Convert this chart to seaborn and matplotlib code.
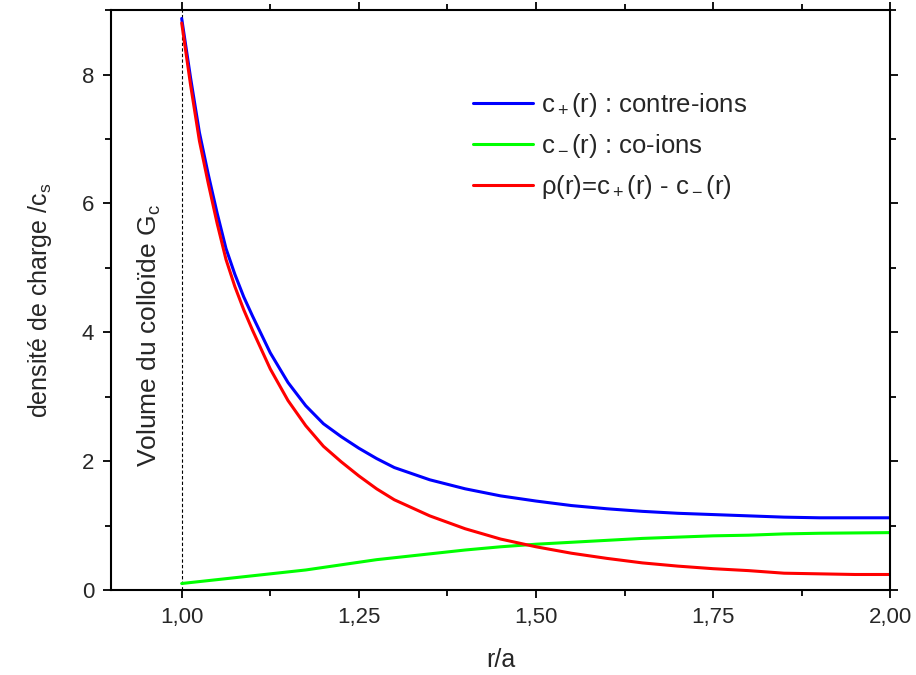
import matplotlib
matplotlib.use("Agg")
import matplotlib.pyplot as plt
import seaborn as sns
import pandas as pd
from matplotlib.ticker import MultipleLocator, FuncFormatter

sns.set_style("ticks")
plt.rcParams['font.family'] = ['Liberation Sans', 'DejaVu Sans']
plt.rcParams['mathtext.fontset'] = 'custom'
plt.rcParams['mathtext.rm'] = 'Liberation Sans'
plt.rcParams['mathtext.it'] = 'Liberation Sans:italic'

r = [1.00, 1.0125, 1.025, 1.0375, 1.05, 1.0625, 1.075, 1.0875, 1.10, 1.125,
     1.15, 1.175, 1.20, 1.225, 1.25, 1.275, 1.30, 1.35, 1.40, 1.45, 1.50,
     1.55, 1.60, 1.65, 1.70, 1.75, 1.80, 1.85, 1.90, 1.95, 2.00]
c_plus = [8.87, 7.95, 7.10, 6.45, 5.85, 5.30, 4.90, 4.55, 4.25, 3.68,
          3.22, 2.86, 2.58, 2.38, 2.20, 2.04, 1.90, 1.71, 1.57, 1.46, 1.38,
          1.31, 1.26, 1.22, 1.19, 1.17, 1.15, 1.13, 1.12, 1.12, 1.12]
c_minus = [0.10, 0.115, 0.13, 0.145, 0.16, 0.175, 0.19, 0.205, 0.22, 0.25,
           0.28, 0.31, 0.35, 0.39, 0.43, 0.47, 0.50, 0.56, 0.62, 0.67, 0.71,
           0.74, 0.77, 0.80, 0.82, 0.84, 0.85, 0.87, 0.88, 0.885, 0.89]
rho = [8.80, 7.84, 6.97, 6.31, 5.69, 5.13, 4.71, 4.35, 4.03, 3.43,
       2.94, 2.55, 2.23, 1.99, 1.77, 1.57, 1.40, 1.15, 0.95, 0.79, 0.67,
       0.57, 0.49, 0.42, 0.37, 0.33, 0.30, 0.26, 0.25, 0.24, 0.24]

names = [r"c$\mathregular{_+}$(r) : contre-ions",
         r"c$\mathregular{_-}$(r) : co-ions",
         r"ρ(r)=c$\mathregular{_+}$(r) - c$\mathregular{_-}$(r)"]
colors = ["#0000ff", "#00ff00", "#ff0000"]

df = pd.concat([
    pd.DataFrame({"r": r, "val": c_plus, "serie": names[0]}),
    pd.DataFrame({"r": r, "val": c_minus, "serie": names[1]}),
    pd.DataFrame({"r": r, "val": rho, "serie": names[2]}),
])

fig = plt.figure(figsize=(9.16, 6.75), dpi=100)
ax = fig.add_axes([0.121, 0.126, 0.851, 0.859])

sns.lineplot(data=df, x="r", y="val", hue="serie", palette=colors,
             hue_order=names, linewidth=2.2, ax=ax, sort=False)

ax.axvline(1.0, color="black", linestyle=(0, (3, 2)), linewidth=0.8, zorder=0)

ax.set_xlim(0.9, 2.0)
ax.set_ylim(0, 9)
ax.xaxis.set_major_locator(MultipleLocator(0.25))
ax.xaxis.set_minor_locator(MultipleLocator(0.125))
ax.yaxis.set_major_locator(MultipleLocator(2))
ax.yaxis.set_minor_locator(MultipleLocator(1))
ax.xaxis.set_major_formatter(FuncFormatter(lambda v, p: f"{v:.2f}".replace(".", ",")))

for s in ax.spines.values():
    s.set_visible(True)
    s.set_linewidth(1.5)
    s.set_color("black")
ax.tick_params(which="both", direction="out", top=True, right=True,
               labeltop=False, labelright=False, width=1.3, color="black")
ax.tick_params(which="major", length=6, labelsize=16, pad=6)
ax.tick_params(which="minor", length=4)

ax.set_xlabel("r/a", fontsize=18, labelpad=15)
ax.set_ylabel(r"densité de charge /c$\mathregular{_s}$", fontsize=18, labelpad=20)

ax.text(0.955, 3.95, r"Volume du colloïde G$\mathregular{_c}$", rotation=90,
        fontsize=19, ha="center", va="center")

leg = ax.legend(loc="upper left", bbox_to_anchor=(0.435, 0.90), frameon=False,
                fontsize=18.5, handlelength=2.35, labelspacing=0.5, handletextpad=0.3)
for h in leg.get_lines():
    h.set_linewidth(2.2)

fig.savefig("out.png", dpi=100)
